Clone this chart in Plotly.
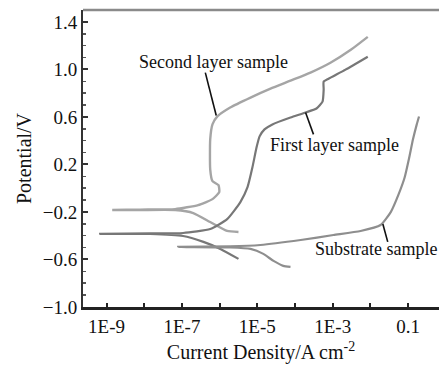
import numpy as np
import plotly.graph_objects as go

# log10 of current density (A cm^-2) and potential (V)
second_logi = [-5.50, -5.80, -6.25, -6.70, -7.18, -8.11, -8.85,
               -8.11, -7.18, -6.57, -6.19, -6.01, -6.03, -6.19, -6.25, -6.25,
               -6.19, -6.06, -5.72, -5.18, -4.65, -4.12, -3.59, -3.06, -2.52, -2.07]
second_E = [-0.369, -0.360, -0.285, -0.209, -0.184, -0.184, -0.184,
            -0.180, -0.176, -0.142, -0.092, -0.033, 0.025, 0.059, 0.159, 0.411,
            0.537, 0.604, 0.679, 0.763, 0.838, 0.905, 0.973, 1.056, 1.165, 1.274]

first_logi = [-5.50, -5.98, -6.43, -6.97, -7.84, -9.17,
              -7.84, -6.97, -6.25, -5.80, -5.45, -5.26, -5.13, -5.02, -4.94,
              -4.81, -4.60, -4.12, -3.72, -3.43, -3.27, -3.24, -3.24, -3.11,
              -2.66, -2.07]
first_E = [-0.595, -0.511, -0.452, -0.402, -0.385, -0.385,
           -0.381, -0.377, -0.344, -0.260, -0.117, 0.009, 0.176, 0.344, 0.436,
           0.495, 0.537, 0.595, 0.637, 0.671, 0.729, 0.830, 0.897, 0.922,
           0.998, 1.107]

sub_logi = [-4.12, -4.31, -4.57, -4.84, -5.18, -5.72, -7.10,
            -5.72, -4.92, -3.85, -2.98, -2.26, -1.73, -1.46, -1.25, -1.09,
            -0.98, -0.87, -0.77, -0.71]
sub_E = [-0.662, -0.654, -0.612, -0.553, -0.511, -0.499, -0.494,
         -0.490, -0.478, -0.436, -0.394, -0.360, -0.310, -0.201, -0.050, 0.092,
         0.243, 0.411, 0.537, 0.604]

x_major_exp = [-9, -7, -5, -3, -1]
x_tick_text = ["1E-9", "1E-7", "1E-5", "1E-3", "0.1"]
x_minor_exp = [-8, -6, -4, -2]
y_tick_vals = [-1.0, -0.6, -0.2, 0.2, 0.6, 1.0, 1.4]
y_tick_text = ["\u22121.0", "\u22120.6", "\u22120.2", "0.2", "0.6", "1.0", "1.4"]

# label texts, their anchor (log10 i, E) and pointer ends
label_text = ["Second layer sample", "First layer sample", "Substrate sample"]
label_logi = [-6.15, -2.95, -1.86]
label_E = [1.065, 0.361, -0.511]
pointer_logi = [(-6.38, -6.09), (-3.72, -3.51), (-1.67, -1.54)]
pointer_E = [(0.973, 0.612), (0.637, 0.453), (-0.302, -0.452)]

FONT = "Liberation Serif, Times New Roman, serif"

fig = go.Figure()
series = [
    ("Second layer sample", second_logi, second_E, "#a5a5a5", 2.4),
    ("First layer sample", first_logi, first_E, "#777777", 2.2),
    ("Substrate sample", sub_logi, sub_E, "#8e8e8e", 2.2),
]
for name, li, e, col, w in series:
    fig.add_trace(go.Scatter(
        x=np.power(10.0, li), y=e, mode="lines", name=name,
        line=dict(color=col, width=w, shape="spline", smoothing=0.5),
        showlegend=False, hoverinfo="skip"))

for txt, tx, ty, pl, pe in zip(label_text, label_logi, label_E, pointer_logi, pointer_E):
    fig.add_annotation(x=tx, y=ty, xref="x", yref="y", text=txt,
                       showarrow=False, font=dict(family=FONT, size=18, color="#111"))
    fig.add_trace(go.Scatter(x=np.power(10.0, pl), y=pe, mode="lines",
                             line=dict(color="#111", width=1.6),
                             showlegend=False, hoverinfo="skip"))

# grey top border
fig.add_shape(type="line", xref="paper", yref="paper", x0=0, x1=1, y0=1, y1=1,
              line=dict(color="#8a8a8a", width=2.5))

fig.update_layout(
    width=439, height=374,
    margin=dict(l=83, r=0, t=10, b=67, autoexpand=False),
    paper_bgcolor="white", plot_bgcolor="white",
    font=dict(family=FONT, color="#111"),
    hovermode=False,
    xaxis=dict(type="log", range=[-9.625, -0.18],
               tickvals=[10.0 ** k for k in x_major_exp], ticktext=x_tick_text,
               ticks="inside", ticklen=4, tickwidth=2, tickcolor="#222",
               minor=dict(tickvals=[10.0 ** k for k in x_minor_exp], ticks="inside",
                          ticklen=4, tickwidth=2, tickcolor="#222", showgrid=False),
               showline=True, linecolor="#222", linewidth=3,
               showgrid=False, zeroline=False, automargin=False,
               tickfont=dict(family=FONT, size=19, color="#111"),
               title=dict(text="Current Density/A cm<sup>-2</sup>",
                          font=dict(family=FONT, size=20, color="#111"), standoff=10)),
    yaxis=dict(range=[-1.0, 1.5],
               tickvals=y_tick_vals, ticktext=y_tick_text,
               ticks="inside", ticklen=5, tickwidth=2, tickcolor="#333",
               minor=dict(dtick=0.1, ticks="inside", ticklen=3, tickwidth=1.5,
                          tickcolor="#555", showgrid=False),
               showline=True, linecolor="#333", linewidth=2,
               showgrid=False, zeroline=False, automargin=False,
               tickfont=dict(family=FONT, size=19, color="#111"),
               title=dict(text="Potential/V",
                          font=dict(family=FONT, size=20, color="#111"), standoff=6)),
)

# drop the page's default body margin so the figure fills the window exactly
fig.write_html("out.html", config={"displayModeBar": False, "staticPlot": True},
               post_script="document.body.style.margin='0';document.body.style.overflow='hidden';")
